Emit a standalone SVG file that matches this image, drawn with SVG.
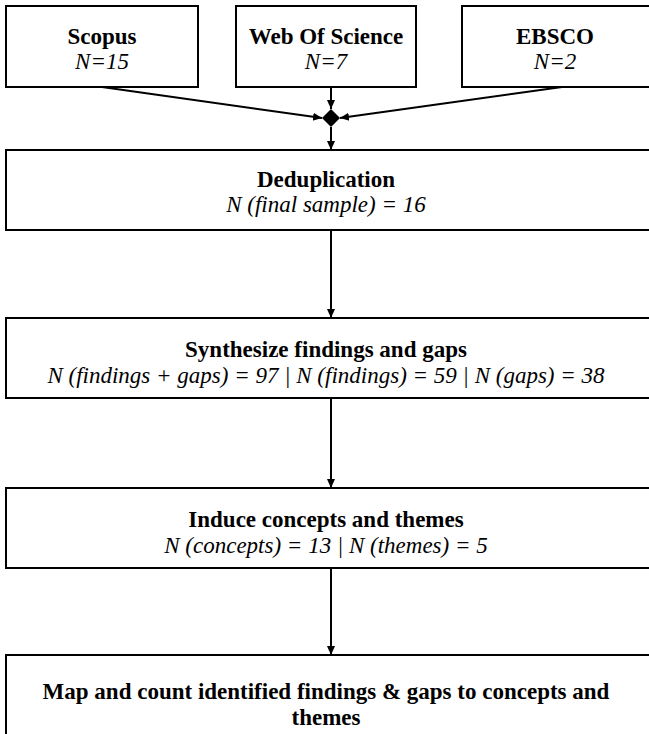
<svg xmlns="http://www.w3.org/2000/svg" width="649" height="734" viewBox="0 0 649 734">
<style>
.box{fill:#fff;stroke:#000;stroke-width:2}
.b{font-family:"Liberation Serif","Times New Roman",serif;font-weight:bold;font-size:23px;text-anchor:middle;fill:#000}
.i{font-family:"Liberation Serif","Times New Roman",serif;font-style:italic;font-size:23px;text-anchor:middle;fill:#000}
.c{stroke:#000;stroke-width:2;fill:none;marker-end:url(#ah)}
</style>
<defs>
<marker id="ah" markerWidth="10" markerHeight="10" refX="9" refY="5" orient="auto" markerUnits="userSpaceOnUse">
<path d="M0,1 L9,5 L0,9 Z" fill="#000"/>
</marker>
</defs>
<rect width="649" height="734" fill="#fff"/>
<g id="scopus"><rect class="box" x="6" y="6" width="192" height="81"/><text class="b" x="102" y="44">Scopus</text><text class="i" x="102" y="69">N=15</text></g>
<g id="wos"><rect class="box" x="236" y="6" width="180" height="81"/><text class="b" x="326" y="44">Web Of Science</text><text class="i" x="326" y="69">N=7</text></g>
<g id="ebsco"><rect class="box" x="462" y="6" width="200" height="81"/><text class="b" x="555" y="44">EBSCO</text><text class="i" x="555" y="69">N=2</text></g>
<g id="join"><path d="M331,109 L340,118 L331,127 L322,118 Z" fill="#000"/></g>
<g id="dedup"><rect class="box" x="6" y="150" width="656" height="80"/><text class="b" x="326" y="187">Deduplication</text><text class="i" x="326" y="212">N (final sample) = 16</text></g>
<g id="synth"><rect class="box" x="6" y="318" width="656" height="80"/><text class="b" x="326" y="357">Synthesize findings and gaps</text><text class="i" x="326" y="383">N (findings + gaps) = 97 | N (findings) = 59 | N (gaps) = 38</text></g>
<g id="induce"><rect class="box" x="6" y="488" width="656" height="80"/><text class="b" x="326" y="527">Induce concepts and themes</text><text class="i" x="326" y="553">N (concepts) = 13 | N (themes) = 5</text></g>
<g id="map"><rect class="box" x="6" y="655" width="656" height="90"/><text class="b" x="326" y="699">Map and count identified findings &amp; gaps to concepts and</text><text class="b" x="326" y="725">themes</text></g>
<g id="connectors">
<line class="c" x1="102" y1="87" x2="322" y2="118"/>
<line class="c" x1="562" y1="87" x2="340" y2="118"/>
<line class="c" x1="331" y1="87" x2="331" y2="109"/>
<line class="c" x1="331" y1="127" x2="331" y2="150"/>
<line class="c" x1="331" y1="230" x2="331" y2="318"/>
<line class="c" x1="331" y1="398" x2="331" y2="488"/>
<line class="c" x1="331" y1="568" x2="331" y2="655"/>
</g>
</svg>
